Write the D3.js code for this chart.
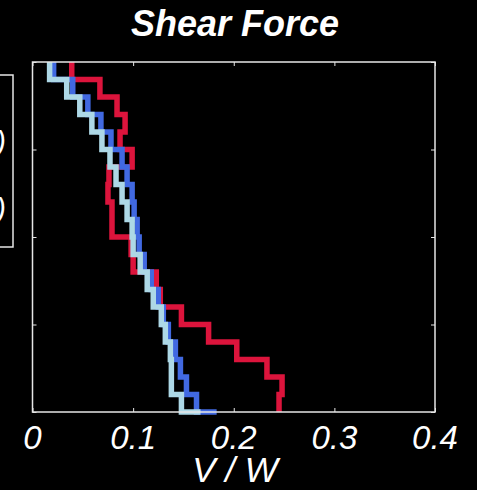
<!DOCTYPE html>
<html>
<head>
<meta charset="utf-8">
<script src="https://cdn.jsdelivr.net/npm/d3@7"></script>
<style>
  body { margin: 0; background: #000; }
  svg { display: block; background: #000; }
  text { font-family: "Liberation Sans", Arial, sans-serif; fill: #fff; }
</style>
</head>
<body>
<div id="chart"></div>
<script>
var width = 477;
var height = 490;

// floors, top to bottom (the last entry is the ground level)
var floors = [20, 19, 18, 17, 16, 15, 14, 13, 12, 11, 10, 9, 8, 7, 6, 5, 4, 3, 2, 1, 0];

// V/W per storey, read from the top storey down, last value at the base
var redVals = [0.039, 0.067, 0.084, 0.092, 0.087, 0.099, 0.076, 0.075, 0.079, 0.079,
               0.098, 0.100, 0.123, 0.127, 0.148, 0.175, 0.203, 0.233, 0.248, 0.245, 0.245];
var blueVals = [0.021, 0.040, 0.055, 0.068, 0.078, 0.089, 0.094, 0.099, 0.101, 0.104,
                0.106, 0.111, 0.118, 0.125, 0.130, 0.135, 0.142, 0.147, 0.153, 0.163, 0.183];
var lightVals = [0.017, 0.034, 0.047, 0.059, 0.069, 0.077, 0.083, 0.089, 0.094, 0.099,
                 0.100, 0.107, 0.114, 0.120, 0.128, 0.132, 0.137, 0.138, 0.138, 0.148, 0.167];

var xTicks = [0, 0.1, 0.2, 0.3, 0.4];
var yTicks = [0, 5, 10, 15, 20];
var legendLabels = ["Code", "Analysis (mean)", "Analysis (median)"];

var svg = d3.select("#chart")
    .append("svg")
    .attr("width", width)
    .attr("height", height);

var margin = ({top: 62, right: 42, bottom: 78, left: 32.5}),
    iwidth = width - margin.left - margin.right,
    iheight = height - margin.top - margin.bottom;

var x = d3.scaleLinear().domain([0, 0.4]).range([margin.left, margin.left + iwidth]);
var y = d3.scaleLinear().domain([0, 20]).range([margin.top + iheight, margin.top]);

// storey shear drawn as stairs
var stairs = d3.line()
    .x(function(d) { return x(d[0]); })
    .y(function(d) { return y(d[1]); })
    .curve(d3.curveStepBefore);

var series = [
  {vals: redVals, color: "#dc143c"},
  {vals: blueVals, color: "#4169e1"},
  {vals: lightVals, color: "#add8e6"}
];

series.forEach(function(s) {
  svg.append("path")
      .datum(s.vals.map(function(v, i) { return [v, floors[i]]; }))
      .attr("fill", "none")
      .attr("stroke", s.color)
      .attr("stroke-width", 5.5)
      .attr("d", stairs);
});

// axes box with inward ticks on all four sides
var axisColor = "#e6e6e6";
svg.append("rect")
    .attr("x", x(0))
    .attr("y", y(20))
    .attr("width", x(0.4) - x(0))
    .attr("height", y(0) - y(20))
    .attr("fill", "none")
    .attr("stroke", axisColor)
    .attr("stroke-width", 1.5);

svg.append("g")
    .attr("transform", "translate(0," + y(0) + ")")
    .call(d3.axisBottom(x).tickValues(xTicks).tickSize(-4).tickFormat(""))
    .call(function(g) { g.select(".domain").remove(); g.selectAll("line").attr("stroke", axisColor); });
svg.append("g")
    .attr("transform", "translate(0," + y(20) + ")")
    .call(d3.axisTop(x).tickValues(xTicks).tickSize(-4).tickFormat(""))
    .call(function(g) { g.select(".domain").remove(); g.selectAll("line").attr("stroke", axisColor); });
svg.append("g")
    .attr("transform", "translate(" + x(0) + ",0)")
    .call(d3.axisLeft(y).tickValues(yTicks).tickSize(-4).tickFormat(""))
    .call(function(g) { g.select(".domain").remove(); g.selectAll("line").attr("stroke", axisColor); });
svg.append("g")
    .attr("transform", "translate(" + x(0.4) + ",0)")
    .call(d3.axisRight(y).tickValues(yTicks).tickSize(-4).tickFormat(""))
    .call(function(g) { g.select(".domain").remove(); g.selectAll("line").attr("stroke", axisColor); });

// x tick labels
svg.selectAll(".xlab")
    .data(xTicks)
    .enter().append("text")
    .attr("class", "xlab")
    .attr("x", function(d) { return x(d); })
    .attr("y", 449)
    .attr("text-anchor", "middle")
    .style("font-size", "33px")
    .style("font-style", "italic")
    .text(function(d) { return d === 0 ? "0" : d3.format(".1f")(d); });

svg.append("text")
    .attr("x", 235)
    .attr("y", 482)
    .attr("text-anchor", "middle")
    .style("font-size", "35px")
    .style("font-style", "italic")
    .text("V / W");

svg.append("text")
    .attr("x", 235)
    .attr("y", 36)
    .attr("text-anchor", "middle")
    .style("font-size", "36px")
    .style("font-style", "italic")
    .style("font-weight", "bold")
    .text("Shear Force");

// legend, mostly off the left edge; texts end at the box's right side
var legend = svg.append("g");
legend.append("rect")
    .attr("x", -300)
    .attr("y", 75)
    .attr("width", 313)
    .attr("height", 172)
    .attr("fill", "#000")
    .attr("stroke", axisColor)
    .attr("stroke-width", 1.5);
var legendY = [100, 152, 219];
var legendEnd = [-90, 6, 6];
legendLabels.forEach(function(t, i) {
  legend.append("line")
      .attr("x1", -290).attr("x2", -260)
      .attr("y1", legendY[i] - 10).attr("y2", legendY[i] - 10)
      .attr("stroke", series[i].color)
      .attr("stroke-width", 5);
  legend.append("text")
      .attr("x", legendEnd[i])
      .attr("y", legendY[i])
      .attr("text-anchor", "end")
      .style("font-size", "29px")
      .style("font-style", "italic")
      .text(t);
});
</script>
</body>
</html>
